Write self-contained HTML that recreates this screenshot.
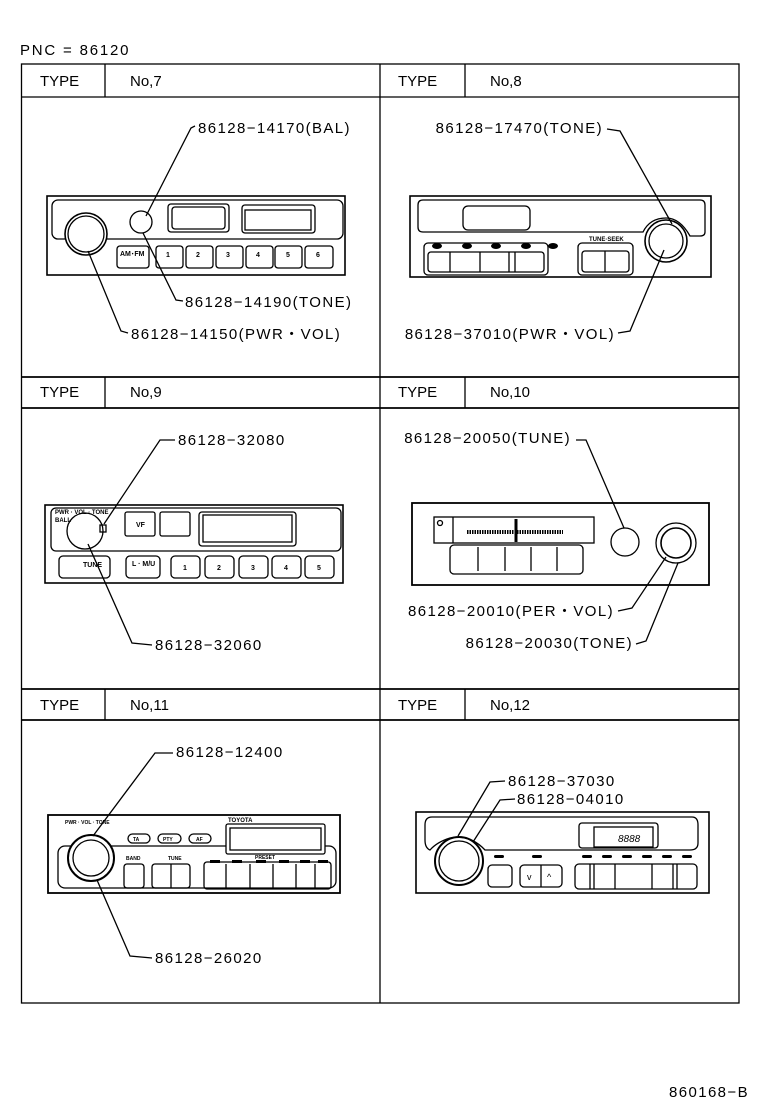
<!DOCTYPE html>
<html><head><meta charset="utf-8"><style>
html,body{margin:0;padding:0;background:#fff;}
svg{display:block;}
text{font-family:"Liberation Sans",sans-serif;fill:#000;}
.lb{letter-spacing:1.4px;}
</style></head><body>
<svg width="760" height="1112" viewBox="0 0 760 1112" xmlns="http://www.w3.org/2000/svg">
<g fill="none" stroke="#000" stroke-width="1.3">
<rect x="21.5" y="64" width="717.5" height="939"/>
<line x1="380" y1="64" x2="380" y2="1003"/>
<line x1="21.5" y1="97" x2="739" y2="97"/>
<line x1="21.5" y1="377" x2="739" y2="377" stroke-width="1.8"/>
<line x1="21.5" y1="408" x2="739" y2="408" stroke-width="1.8"/>
<line x1="21.5" y1="689" x2="739" y2="689" stroke-width="1.8"/>
<line x1="21.5" y1="720" x2="739" y2="720" stroke-width="1.8"/>
<line x1="105" y1="64" x2="105" y2="97"/><line x1="465" y1="64" x2="465" y2="97"/>
<line x1="105" y1="377" x2="105" y2="408"/><line x1="465" y1="377" x2="465" y2="408"/>
<line x1="105" y1="689" x2="105" y2="720"/><line x1="465" y1="689" x2="465" y2="720"/>

<!-- Panel 7 -->
<rect x="47" y="196" width="298" height="79" stroke-width="1.6"/>
<rect x="52" y="200" width="291" height="39" rx="6"/>
<circle cx="86" cy="234" r="21" fill="#fff" stroke-width="1.6"/>
<circle cx="86" cy="234" r="18"/>
<circle cx="141" cy="222" r="11"/>
<rect x="168" y="204" width="61" height="28" rx="3"/>
<rect x="172" y="207" width="53" height="22" rx="3"/>
<rect x="242" y="205" width="73" height="28" rx="3"/>
<rect x="245" y="210" width="66" height="20"/>
<rect x="117" y="246" width="32" height="22" rx="3"/>
<rect x="156" y="246" width="27" height="22" rx="3"/>
<rect x="186" y="246" width="27" height="22" rx="3"/>
<rect x="216" y="246" width="27" height="22" rx="3"/>
<rect x="246" y="246" width="27" height="22" rx="3"/>
<rect x="275" y="246" width="27" height="22" rx="3"/>
<rect x="305" y="246" width="28" height="22" rx="3"/>
<polyline points="195,126 191,128 146,216"/>
<polyline points="183,301 176,300 143,233"/>
<polyline points="128,333 121,331 88,251"/>

<!-- Panel 8 -->
<rect x="410" y="196" width="301" height="81" stroke-width="1.6"/>
<path d="M423,200 H700 Q705,200 705,205 V232 Q705,236 700,236 H690 Q680,218 666,218 Q650,218 643,232 H423 Q418,232 418,227 V205 Q418,200 423,200 Z"/>
<rect x="463" y="206" width="67" height="24" rx="5"/>
<circle cx="666" cy="241" r="21" stroke-width="1.6"/>
<circle cx="666" cy="241" r="17"/>
<rect x="424" y="243" width="124" height="32" rx="4"/>
<rect x="428" y="252" width="116" height="20" rx="3"/>
<line x1="450" y1="252" x2="450" y2="272"/><line x1="480" y1="252" x2="480" y2="272"/><line x1="509" y1="252" x2="509" y2="272"/>
<line x1="515" y1="252" x2="515" y2="272"/>
<rect x="578" y="243" width="55" height="32" rx="4"/>
<rect x="582" y="251" width="47" height="21" rx="3"/>
<line x1="605" y1="251" x2="605" y2="272"/>
<polyline points="607,129 620,131 672,224"/>
<polyline points="618,333 630,331 664,250"/>

<!-- Panel 9 -->
<rect x="45" y="505" width="298" height="78" stroke-width="1.6"/>
<rect x="51" y="508" width="290" height="43" rx="5"/>
<circle cx="85" cy="531" r="18" fill="#fff"/>
<rect x="100" y="525" width="6" height="7"/>
<rect x="125" y="512" width="30" height="24" rx="2"/>
<rect x="160" y="512" width="30" height="24" rx="2"/>
<rect x="199" y="512" width="97" height="34" rx="3"/>
<rect x="203" y="515" width="89" height="27"/>
<rect x="59" y="556" width="51" height="22" rx="4"/>
<rect x="126" y="556" width="34" height="22" rx="4"/>
<rect x="171" y="556" width="29" height="22" rx="4"/>
<rect x="205" y="556" width="29" height="22" rx="4"/>
<rect x="239" y="556" width="29" height="22" rx="4"/>
<rect x="272" y="556" width="29" height="22" rx="4"/>
<rect x="305" y="556" width="29" height="22" rx="4"/>
<polyline points="175,440 160,440 104,524"/>
<polyline points="152,645 132,643 88,544"/>

<!-- Panel 10 -->
<rect x="412" y="503" width="297" height="82" stroke-width="1.8"/>
<rect x="434" y="517" width="160" height="26"/>
<line x1="453" y1="517" x2="453" y2="543"/>
<circle cx="440" cy="523" r="2.5"/>
<line x1="467" y1="532" x2="563" y2="532" stroke-width="4" stroke-dasharray="1.5,1"/>
<line x1="516" y1="519" x2="516" y2="542" stroke-width="3"/>
<rect x="450" y="545" width="133" height="29" rx="4"/>
<line x1="478" y1="547" x2="478" y2="571"/><line x1="505" y1="547" x2="505" y2="571"/><line x1="531" y1="547" x2="531" y2="571"/><line x1="557" y1="547" x2="557" y2="571"/>
<circle cx="625" cy="542" r="14"/>
<circle cx="676" cy="543" r="20"/>
<circle cx="676" cy="543" r="15" stroke-width="1.6"/>
<polyline points="576,440 586,440 624,528"/>
<polyline points="618,611 632,608 666,557"/>
<polyline points="636,644 646,641 678,563"/>

<!-- Panel 11 -->
<rect x="48" y="815" width="292" height="78" stroke-width="1.8"/>
<rect x="58" y="846" width="278" height="42" rx="7"/>
<circle cx="91" cy="858" r="23" fill="#fff" stroke-width="2"/>
<circle cx="91" cy="858" r="18"/>
<rect x="128" y="834" width="22" height="9" rx="4.5"/>
<rect x="158" y="834" width="23" height="9" rx="4.5"/>
<rect x="189" y="834" width="22" height="9" rx="4.5"/>
<rect x="226" y="824" width="99" height="30" fill="#fff" rx="2"/>
<rect x="230" y="828" width="91" height="22"/>
<rect x="124" y="864" width="20" height="24" rx="3"/>
<rect x="152" y="864" width="38" height="24" rx="3"/>
<line x1="171" y1="864" x2="171" y2="888"/>
<rect x="204" y="862" width="127" height="27" rx="3"/>
<line x1="226" y1="864" x2="226" y2="888"/><line x1="250" y1="864" x2="250" y2="888"/><line x1="273" y1="864" x2="273" y2="888"/><line x1="296" y1="864" x2="296" y2="888"/><line x1="315" y1="864" x2="315" y2="888"/>
<polyline points="173,753 155,753 93,836"/>
<polyline points="152,958 130,956 97,880"/>

<!-- Panel 12 -->
<rect x="416" y="812" width="293" height="81" stroke-width="1.6"/>
<path d="M432,817 H692 Q698,817 698,825 V843 Q698,850 690,850 H485 Q470,834 450,838 Q437,842 430,850 Q425,848 425,840 V825 Q425,817 432,817 Z"/>
<circle cx="459" cy="861" r="24" stroke-width="2"/>
<circle cx="459" cy="861" r="20"/>
<rect x="579" y="823" width="79" height="25" rx="3"/>
<rect x="594" y="827" width="59" height="20"/>
<rect x="488" y="865" width="24" height="22" rx="4"/>
<rect x="520" y="865" width="42" height="22" rx="4"/>
<line x1="541" y1="865" x2="541" y2="887"/>
<rect x="575" y="864" width="122" height="25" rx="4"/>
<line x1="590" y1="864" x2="590" y2="889"/><line x1="594" y1="864" x2="594" y2="889"/><line x1="615" y1="864" x2="615" y2="889"/><line x1="652" y1="864" x2="652" y2="889"/><line x1="673" y1="864" x2="673" y2="889"/><line x1="677" y1="864" x2="677" y2="889"/>
<polyline points="505,781 490,782 458,836"/>
<polyline points="515,799 500,800 473,842"/>
</g>
<g fill="#000">
<rect x="494" y="855" width="10" height="3" rx="1.5"/>
<rect x="532" y="855" width="10" height="3" rx="1.5"/><rect x="582" y="855" width="10" height="3" rx="1.5"/><rect x="602" y="855" width="10" height="3" rx="1.5"/><rect x="622" y="855" width="10" height="3" rx="1.5"/><rect x="642" y="855" width="10" height="3" rx="1.5"/><rect x="662" y="855" width="10" height="3" rx="1.5"/><rect x="682" y="855" width="10" height="3" rx="1.5"/>
<ellipse cx="437" cy="246" rx="5" ry="3"/><ellipse cx="467" cy="246" rx="5" ry="3"/><ellipse cx="496" cy="246" rx="5" ry="3"/><ellipse cx="526" cy="246" rx="5" ry="3"/><ellipse cx="553" cy="246" rx="5" ry="3"/>
<rect x="210" y="860" width="10" height="3"/><rect x="232" y="860" width="10" height="3"/><rect x="256" y="860" width="10" height="3"/><rect x="279" y="860" width="10" height="3"/><rect x="300" y="860" width="10" height="3"/><rect x="318" y="860" width="10" height="3"/>
</g>
<g font-size="15">
<text x="20" y="55" style="letter-spacing:1.8px">PNC = 86120</text>
<text x="40" y="86">TYPE</text><text x="130" y="86">No,7</text>
<text x="398" y="86">TYPE</text><text x="490" y="86">No,8</text>
<text x="40" y="397">TYPE</text><text x="130" y="397">No,9</text>
<text x="398" y="397">TYPE</text><text x="490" y="397">No,10</text>
<text x="40" y="710">TYPE</text><text x="130" y="710">No,11</text>
<text x="398" y="710">TYPE</text><text x="490" y="710">No,12</text>
<g class="lb">
<text x="198" y="133">86128−14170(BAL)</text>
<text x="185" y="307">86128−14190(TONE)</text>
<text x="131" y="339">86128−14150(PWR・VOL)</text>
<text x="603" y="133" text-anchor="end">86128−17470(TONE)</text>
<text x="615" y="339" text-anchor="end">86128−37010(PWR・VOL)</text>
<text x="178" y="445">86128−32080</text>
<text x="155" y="650">86128−32060</text>
<text x="571" y="443" text-anchor="end">86128−20050(TUNE)</text>
<text x="614" y="616" text-anchor="end">86128−20010(PER・VOL)</text>
<text x="633" y="648" text-anchor="end">86128−20030(TONE)</text>
<text x="176" y="757">86128−12400</text>
<text x="155" y="963">86128−26020</text>
<text x="508" y="786">86128−37030</text>
<text x="517" y="804">86128−04010</text>
<text x="749" y="1097" text-anchor="end">860168−B</text>
</g>
</g>
<g font-size="7" font-weight="bold">
<text x="120" y="256">AM･FM</text>
<text x="166" y="257">1</text><text x="196" y="257">2</text><text x="226" y="257">3</text><text x="256" y="257">4</text><text x="286" y="257">5</text><text x="316" y="257">6</text>
<text x="589" y="241" font-size="6">TUNE·SEEK</text>
<text x="55" y="514" font-size="6">PWR · VOL · TONE</text>
<text x="55" y="522" font-size="6">BALL</text>
<text x="136" y="527">VF</text>
<text x="83" y="567">TUNE</text>
<text x="132" y="566">L · M/U</text>
<text x="183" y="570">1</text><text x="217" y="570">2</text><text x="251" y="570">3</text><text x="284" y="570">4</text><text x="317" y="570">5</text>
<text x="65" y="824" font-size="5">PWR · VOL · TONE</text>
<text x="133" y="841" font-size="5">TA</text><text x="163" y="841" font-size="5">PTY</text><text x="196" y="841" font-size="5">AF</text>
<text x="228" y="822" font-size="6">TOYOTA</text>
<text x="126" y="860" font-size="5">BAND</text>
<text x="168" y="860" font-size="5">TUNE</text>
<text x="255" y="859" font-size="5">PRESET</text>
<text x="618" y="842" font-size="10" font-style="italic" font-weight="normal">8888</text>
<text x="527" y="880" font-size="9" font-weight="normal">v</text><text x="547" y="880" font-size="9" font-weight="normal">^</text>
</g>
</svg>
</body></html>
